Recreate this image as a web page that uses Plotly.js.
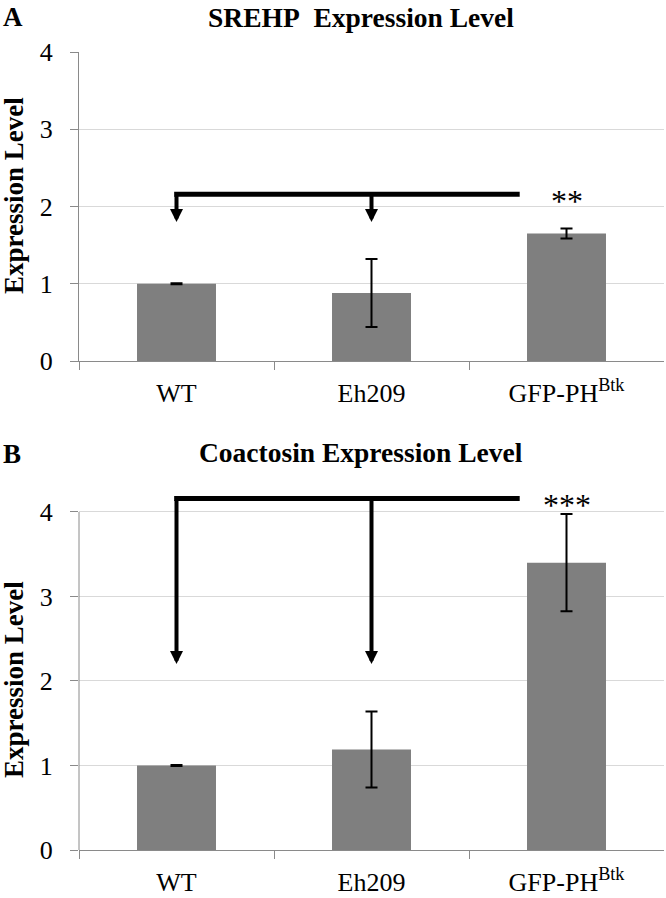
<!DOCTYPE html>
<html>
<head>
<meta charset="utf-8">
<script src="https://cdn.plot.ly/plotly-3.0.1.min.js"></script>
<style>
  html, body { margin: 0; padding: 0; background: #fff; }
  #chart { width: 666px; height: 898px; }
</style>
</head>
<body>
<div id="chart"></div>
<script>
// ---- data ----
const categories = ['WT', 'Eh209', 'GFP-PH<sup>Btk</sup>'];
const srehpMeans = [1.00, 0.88, 1.65];
const srehpErr   = [0.006, 0.44, 0.065];
const coactMeans = [1.00, 1.19, 3.40];
const coactErr   = [0.006, 0.45, 0.575];
const yTickVals  = [0, 1, 2, 3, 4];
const panelTitles = ['SREHP\u00a0\u00a0Expression Level', 'Coactosin Expression Level'];
const panelLetters = ['A', 'B'];
const yTitle = 'Expression Level';
// significance brackets: [panel A, panel B]
const bracketLevel = [2.16, 4.16];
const arrowTip     = [1.80, 2.20];
const starLabels   = ['**', '***'];
const comparedIdx  = [0, 1];     // categories the arrows point at
const bracketEndIdx = 1.76;      // bracket runs up to near the third category
const starIdx = 2;

// ---- style ----
const FONT = '"Liberation Serif", "Times New Roman", serif';
const BAR = '#7f7f7f';
const AXIS = '#8a8a8a';
const GRID = '#d9d9d9';

function barTrace(means, err, xa, ya) {
  return {
    type: 'bar', x: categories, y: means, xaxis: xa, yaxis: ya,
    marker: { color: BAR, line: { width: 0 } },
    error_y: { type: 'data', array: err, visible: true, color: '#000', thickness: 2, width: 6 },
    hoverinfo: 'skip', showlegend: false
  };
}

const data = [
  barTrace(srehpMeans, srehpErr, 'x', 'y'),
  barTrace(coactMeans, coactErr, 'x2', 'y2')
];

function xAxis(anchor) {
  return {
    anchor: anchor, domain: [79/666, 664/666], type: 'category',
    showline: true, linecolor: AXIS, linewidth: 1,
    ticks: 'outside', tickson: 'boundaries', ticklen: 8, tickcolor: AXIS, tickwidth: 1,
    tickfont: { family: FONT, size: 26, color: '#000' }, ticklabelstandoff: 9,
    showgrid: false, zeroline: false, fixedrange: true
  };
}
function yAxis(anchor, domain, range, showline) {
  return {
    anchor: anchor, domain: domain, range: range,
    tickvals: yTickVals, ticktext: yTickVals.map(String),
    showline: showline, linecolor: AXIS, linewidth: 1,
    ticks: 'outside', ticklen: 8, tickcolor: AXIS, tickwidth: 1,
    tickfont: { family: FONT, size: 26, color: '#000' }, ticklabelstandoff: 12,
    showgrid: true, gridcolor: GRID, gridwidth: 1, zeroline: false, fixedrange: true
  };
}

const H = 898;
const layout = {
  width: 666, height: 898,
  margin: { l: 0, r: 0, t: 0, b: 0 },
  paper_bgcolor: '#fff', plot_bgcolor: '#fff',
  font: { family: FONT, color: '#000' },
  bargap: 0.595,
  xaxis: xAxis('y'),
  yaxis: yAxis('x', [(H-361)/H, (H-52)/H], [0, 4], true),
  xaxis2: xAxis('y2'),
  yaxis2: yAxis('x2', [(H-850)/H, (H-482.4)/H], [0, 4.35], false),
  shapes: [],
  annotations: []
};

// panel B y axis line only up to 4
layout.shapes.push({ type: 'line', xref: 'x2 domain', yref: 'y2', x0: 0, x1: 0, y0: 0, y1: 4,
  line: { color: AXIS, width: 1 } });

const axPairs = [['x', 'y'], ['x2', 'y2']];
const titleY = [18, 453];
const letterY = [17, 454];
const yTitleY = [196, 680];

for (let p = 0; p < 2; p++) {
  const [xr, yr] = axPairs[p];
  // bracket
  layout.shapes.push({ type: 'line', xref: xr, yref: yr,
    x0: comparedIdx[0] - 0.012, x1: bracketEndIdx, y0: bracketLevel[p], y1: bracketLevel[p],
    line: { color: '#000', width: 5 } });
  // arrows
  comparedIdx.forEach(ci => {
    layout.annotations.push({ xref: xr, yref: yr, axref: xr, ayref: yr,
      x: ci, y: arrowTip[p], ax: ci, ay: bracketLevel[p], text: '',
      showarrow: true, arrowhead: 2, arrowsize: 0.65, arrowwidth: 4, arrowcolor: '#000', standoff: 0, startstandoff: 0 });
  });
  // stars
  layout.annotations.push({ xref: xr, yref: yr, x: starIdx, y: bracketLevel[p],
    text: starLabels[p], showarrow: false, xanchor: 'center', yanchor: 'middle', yshift: -7,
    font: { family: FONT, size: 32, color: '#000' } });
  // panel title
  layout.annotations.push({ xref: 'paper', yref: 'paper', x: 361/666, y: (H - titleY[p])/H,
    text: '<b>' + panelTitles[p] + '</b>', showarrow: false, xanchor: 'center', yanchor: 'middle',
    font: { family: FONT, size: 27.5, color: '#000' } });
  // panel letter
  layout.annotations.push({ xref: 'paper', yref: 'paper', x: 1/666, y: (H - letterY[p])/H,
    text: '<b>' + panelLetters[p] + '</b>', showarrow: false, xanchor: 'left', yanchor: 'middle',
    font: { family: FONT, size: 27, color: '#000' } });
  // y title
  layout.annotations.push({ xref: 'paper', yref: 'paper', x: 0, y: (H - yTitleY[p])/H,
    text: '<b>' + yTitle + '</b>', textangle: -90, showarrow: false, xanchor: 'left', yanchor: 'middle',
    xshift: -3, font: { family: FONT, size: 27, color: '#000' } });
}

Plotly.newPlot('chart', data, layout, { displayModeBar: false, staticPlot: true });
</script>
</body>
</html>
